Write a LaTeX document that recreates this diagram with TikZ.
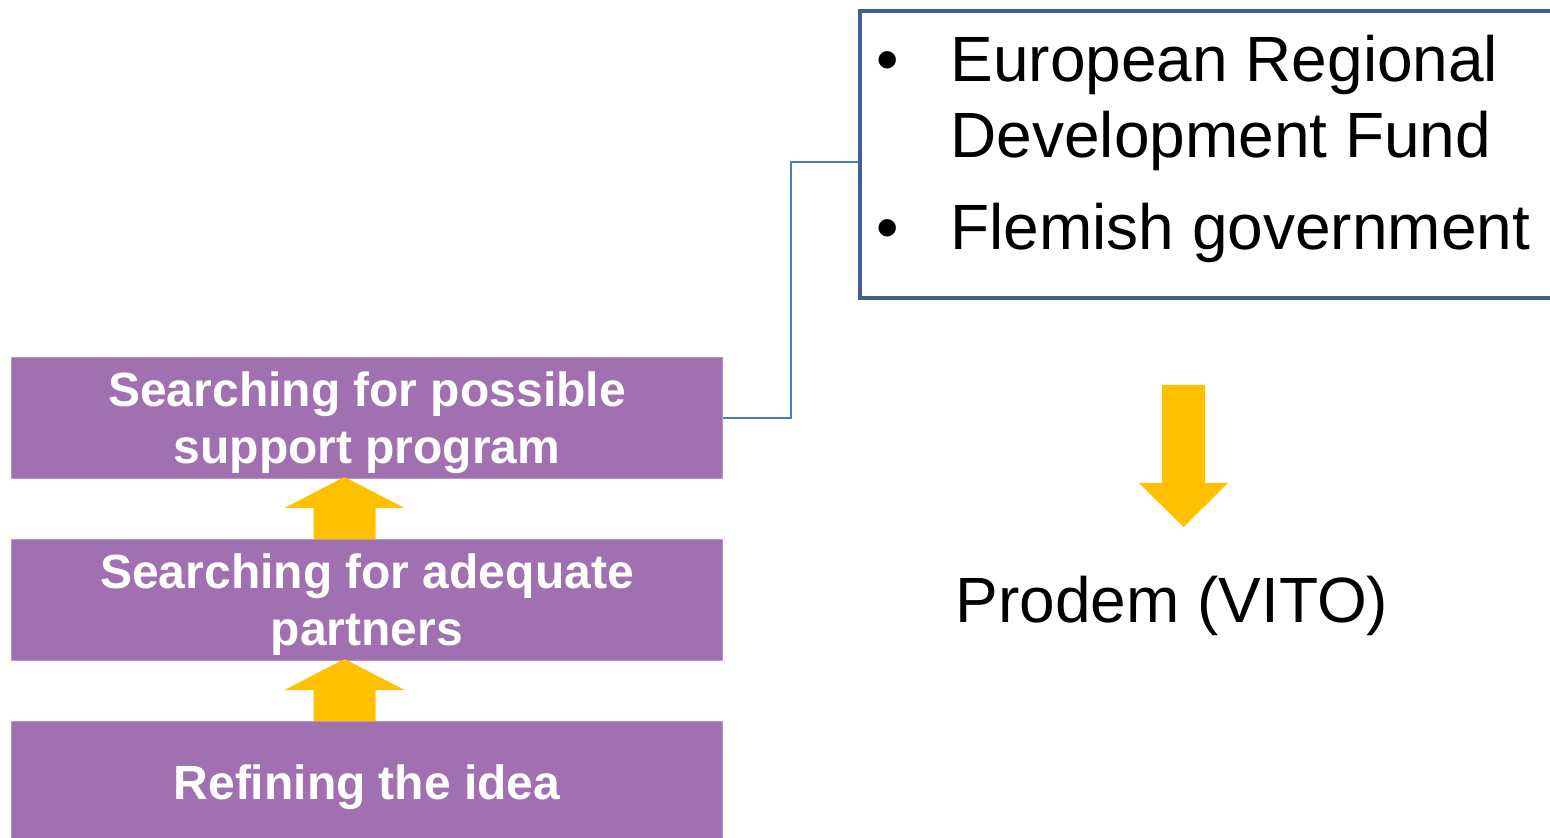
\documentclass[tikz,border=0pt]{standalone}
\usepackage{fontspec}
\setmainfont{Liberation Sans}
\usetikzlibrary{positioning}

\definecolor{stageviolet}{HTML}{A070B0}
\definecolor{arrowgold}{HTML}{FFC000}
\definecolor{framenavy}{HTML}{41608F}
\definecolor{linkblue}{HTML}{4A7EBB}

\tikzset{
  stagebox/.style={fill=stageviolet, draw=stageviolet!75!white, line width=0.5pt,
    minimum width=355.5pt, minimum height=60.5pt, inner sep=0pt, text=white,
    text depth=0pt, align=center, font=\bfseries\fontsize{24}{28.5}\selectfont},
  goldarrow/.style={fill=arrowgold},
  fundbox/.style={draw=framenavy, line width=2pt, inner sep=0pt},
  listtext/.style={inner sep=0pt, align=left, font=\fontsize{32}{38}\selectfont},
  link/.style={draw=linkblue, line width=0.75pt}
}

\begin{document}
\begin{tikzpicture}[x=0.5pt, y=-0.5pt]

    \useasboundingbox (0,0) rectangle (1550,838);

    %% Steps towards a support program

    % Stages
    \node[stagebox, anchor=north west] (sup) at (11,357) {Searching for possible\\support program};
    \node[stagebox, below=30pt of sup] (partners) {Searching for adequate\\partners};
    \node[stagebox, below=30pt of partners] (idea) {Refining the idea};

    % Arrows between the stages
    \fill[goldarrow] (partners.north) ++(-53.5,0) -- ++(0,-31) -- ++(-29,0) -- ++(60,-31)
        -- ++(60,31) -- ++(-29,0) -- ++(0,31) -- cycle;
    \fill[goldarrow] (idea.north) ++(-53.5,0) -- ++(0,-31) -- ++(-29,0) -- ++(60,-31)
        -- ++(60,31) -- ++(-29,0) -- ++(0,31) -- cycle;

    % Funding
    \node[fundbox, anchor=north west, minimum width=348pt, minimum height=143.5pt] (fund) at (858,9) {};
    \node[listtext, anchor=base] (dot1) at (888,82) {\textbullet};
    \node[listtext, anchor=north west] (erdf) at (950,35) {European Regional\\Development Fund};
    \node[listtext, anchor=base] (dot2) at (888,250) {\textbullet};
    \node[listtext, anchor=base west] (flemish) at (950,250) {Flemish government};

    % Link to the funding
    \draw[link] (sup.east) -- ++(68,0) |- ([yshift=-3.75pt]fund.west);

    % Result
    \fill[goldarrow] (1162,385) -- (1205,385) -- (1205,483) -- (1228,483) -- (1183.5,527)
        -- (1139,483) -- (1162,483) -- cycle;
    \node[listtext, anchor=base west] (prodem) at (955,622) {Prodem (VITO)};

\end{tikzpicture}
\end{document}
